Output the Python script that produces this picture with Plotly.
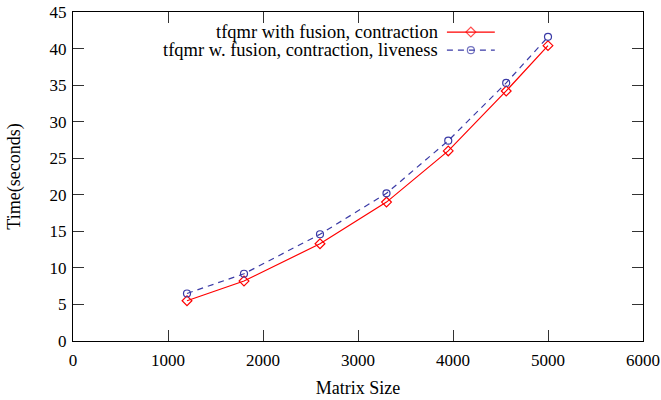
import plotly.graph_objects as go

matrix_size = [1200, 1800, 2600, 3300, 3950, 4560, 5000]
time_fusion = [5.5, 8.2, 13.3, 19.0, 26.0, 34.2, 40.4]
time_liveness = [6.5, 9.2, 14.6, 20.2, 27.4, 35.3, 41.6]
names = ["tfqmr with fusion, contraction", "tfqmr w. fusion, contraction, liveness"]
x_ticks = [0, 1000, 2000, 3000, 4000, 5000, 6000]
y_ticks = [0, 5, 10, 15, 20, 25, 30, 35, 40, 45]

RED = "#ff0000"
BLUE = "#3a3aa6"
FONT = "Liberation Serif"

fig = go.Figure()
fig.add_trace(go.Scatter(
    x=matrix_size, y=time_fusion, mode="lines+markers", name=names[0],
    line=dict(color=RED, width=1.2),
    marker=dict(symbol="diamond-open", size=7.5, color=RED, line=dict(width=1.2)),
    showlegend=False))
fig.add_trace(go.Scatter(
    x=matrix_size, y=time_liveness, mode="lines+markers", name=names[1],
    line=dict(color=BLUE, width=1.2, dash="6px,5px"),
    marker=dict(symbol="circle-open", size=7, color=BLUE, line=dict(width=1.2)),
    showlegend=False))

# manual legend (text right-aligned, sample on the right, as in gnuplot)
leg_rows = [0.939, 0.884]
leg_x0, leg_xm, leg_x1 = 0.656, 0.698, 0.740
styles = [(RED, "solid", "diamond-open", 7.5), (BLUE, "6px,5px", "circle-open", 7)]
for name, yy, (col, dash, sym, sz) in zip(names, leg_rows, styles):
    fig.add_trace(go.Scatter(
        x=[leg_x0, leg_xm, leg_x1], y=[yy, yy, yy], xaxis="x2", yaxis="y2",
        mode="lines+markers", showlegend=False, hoverinfo="skip",
        line=dict(color=col, width=1.2, dash=dash),
        marker=dict(symbol=sym, size=[0, sz, 0], color=col, line=dict(width=1.2))))
    fig.add_annotation(x=0.644, y=yy, xref="paper", yref="paper", text=name,
                       showarrow=False, xanchor="right", yanchor="middle",
                       font=dict(family=FONT, size=18.5, color="black"))

axis_common = dict(
    showgrid=False, zeroline=False, showline=True, linecolor="black", linewidth=1.2,
    mirror="ticks", ticks="inside", ticklen=11, tickcolor="#333333", tickwidth=1,
    tickfont=dict(family=FONT, size=17, color="black"), automargin=False,
)
fig.update_layout(
    width=661, height=400,
    margin=dict(l=73, r=18, t=12, b=59),
    plot_bgcolor="white", paper_bgcolor="white",
    xaxis=dict(range=[0, 6000], tickvals=x_ticks, ticktext=[str(v) for v in x_ticks],
               ticklabelstandoff=3,
               title=dict(text="Matrix Size", font=dict(family=FONT, size=18, color="black"), standoff=12),
               **axis_common),
    yaxis=dict(range=[0, 45], tickvals=y_ticks, ticktext=[str(v) for v in y_ticks],
               ticklabelstandoff=2,
               title=dict(text="Time(seconds)", font=dict(family=FONT, size=18, color="black"), standoff=24),
               **axis_common),
    xaxis2=dict(overlaying="x", range=[0, 1], visible=False, fixedrange=True),
    yaxis2=dict(overlaying="y", range=[0, 1], visible=False, fixedrange=True),
    showlegend=False,
)
fig.write_html("out.html")
